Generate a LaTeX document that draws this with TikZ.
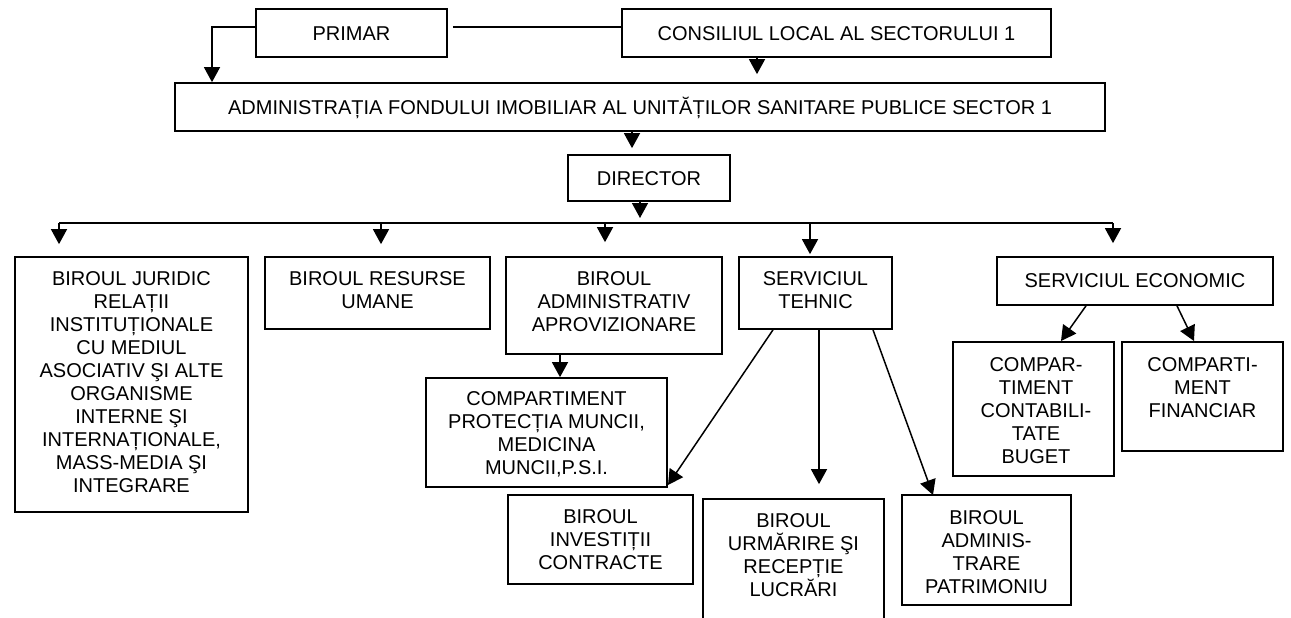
\documentclass[tikz,border=0pt]{standalone}
\usepackage{fontspec}
\setmainfont{Liberation Sans}
\usetikzlibrary{arrows.meta}
\begin{document}
\begin{tikzpicture}[x=1pt,y=-1pt,
  boxs/.style={draw=black, line width=1.7pt, inner sep=0pt},
  txt/.style={align=center, inner sep=0pt, font=\fontsize{20}{23}\selectfont},
  one/.style={text height=14.3pt, text depth=0pt},
  arr/.style={line width=1.5pt, -{Triangle[length=15pt,width=16pt]}},
  ln/.style={line width=1.5pt}]
\useasboundingbox (0,0) rectangle (1291,618);
\clip (0,0) rectangle (1291,618);
\fill[white] (0,0) rectangle (1291,618);

% boxes
\node[boxs, minimum width=191pt, minimum height=48pt] (primar) at (351.5,33) {};
\node[boxs, minimum width=429pt, minimum height=48pt] (cons) at (836.5,33) {};
\node[boxs, minimum width=930pt, minimum height=48pt] (admin) at (640,107) {};
\node[boxs, minimum width=162pt, minimum height=46pt] (dir) at (649,178) {};
\node[boxs, minimum width=233pt, minimum height=255pt] (jur) at (131.5,384.5) {};
\node[boxs, minimum width=225pt, minimum height=72pt] (res) at (377.5,293) {};
\node[boxs, minimum width=216pt, minimum height=97pt] (admv) at (614,305.5) {};
\node[boxs, minimum width=153pt, minimum height=72pt] (teh) at (815.5,293) {};
\node[boxs, minimum width=276pt, minimum height=48pt] (eco) at (1135,281) {};
\node[boxs, minimum width=241pt, minimum height=109pt] (prot) at (546.5,432.5) {};
\node[boxs, minimum width=185pt, minimum height=89pt] (inv) at (600.5,539.5) {};
\node[boxs, minimum width=181pt, minimum height=141pt] (urm) at (793.5,569.5) {};
\node[boxs, minimum width=169pt, minimum height=110pt] (admr) at (986.5,550) {};
\node[boxs, minimum width=161pt, minimum height=134pt] (cont) at (1033.5,409) {};
\node[boxs, minimum width=161pt, minimum height=109pt] (fin) at (1202.5,396.5) {};

% texts
\node[txt, one] (primar-t) at (351.5,33) {PRIMAR};
\node[txt, one] (cons-t) at (836.5,33) {CONSILIUL LOCAL AL SECTORULUI 1};
\node[txt, one] (admin-t) at (640,107) {ADMINISTRAȚIA FONDULUI IMOBILIAR AL UNITĂȚILOR SANITARE PUBLICE SECTOR 1};
\node[txt, one] (dir-t) at (649,178) {DIRECTOR};
\node[txt] (jur-t) at (131.5,382) {BIROUL JURIDIC\\RELAȚII\\INSTITUȚIONALE\\CU MEDIUL\\ASOCIATIV ŞI ALTE\\ORGANISME\\INTERNE ŞI\\INTERNAȚIONALE,\\MASS-MEDIA ŞI\\INTEGRARE};
\node[txt] (res-t) at (377.5,290.5) {BIROUL RESURSE\\UMANE};
\node[txt] (admv-t) at (614,302) {BIROUL\\ADMINISTRATIV\\APROVIZIONARE};
\node[txt] (teh-t) at (815.5,290.5) {SERVICIUL\\TEHNIC};
\node[txt, one] (eco-t) at (1135,280) {SERVICIUL ECONOMIC};
\node[txt] (prot-t) at (546.5,434.5) {COMPARTIMENT\\PROTECȚIA MUNCII,\\MEDICINA\\MUNCII,P.S.I.};
\node[txt] (inv-t) at (600.5,540) {BIROUL\\INVESTIȚII\\CONTRACTE};
\node[txt] (urm-t) at (793.5,555.5) {BIROUL\\URMĂRIRE ŞI\\RECEPȚIE\\LUCRĂRI};
\node[txt] (admr-t) at (986.5,552.5) {BIROUL\\ADMINIS-\\TRARE\\PATRIMONIU};
\node[txt] (cont-t) at (1036,411) {COMPAR-\\TIMENT\\CONTABILI-\\TATE\\BUGET};
\node[txt] (fin-t) at (1202.5,388) {COMPARTI-\\MENT\\FINANCIAR};

% helper coordinates
\coordinate (cy27) at (0,27);
\coordinate (x212) at (212,0);
\coordinate (x757) at (757,0);
\coordinate (x632) at (632,0);
\coordinate (busL) at (59,223);
\coordinate (busR) at (1113,223);
\coordinate (busD) at (640,223);
\coordinate (x381) at (381,0);
\coordinate (x605) at (605,0);
\coordinate (x810) at (810,0);
\coordinate (x560) at (560,0);
\coordinate (x773) at (773,0);
\coordinate (x819) at (819,0);
\coordinate (x873) at (873,0);
\coordinate (x1086) at (1086,0);
\coordinate (x1177) at (1177,0);
\coordinate (invtip) at (668,485);
\coordinate (admrtip) at (933,495);
\coordinate (conttip) at (1061,341);
\coordinate (fintip) at (1194,341);

% connectors
\draw[arr] (primar.west |- cy27) -| (admin.north -| x212);
\draw[ln, shorten <=5pt] (primar.east |- cy27) -- (cons.west |- cy27);
\draw[arr, shorten >=8pt] (cons.south -| x757) -- (admin.north -| x757);
\draw[arr, shorten >=6pt] (admin.south -| x632) -- (dir.north -| x632);
\draw[arr, shorten >=5pt] (dir.south -| busD) -- (busD);
\draw[ln] (busL) -- (busR);
\draw[arr, shorten >=12pt] (busL) -- (jur.north -| busL);
\draw[arr, shorten >=12pt] (busL -| x381) -- (res.north -| x381);
\draw[arr, shorten >=14pt] (busL -| x605) -- (admv.north -| x605);
\draw[arr, shorten >=2pt] (busL -| x810) -- (teh.north -| x810);
\draw[arr, shorten >=13pt] (busR) -- (eco.north -| busR);
\draw[arr] (admv.south -| x560) -- (prot.north -| x560);
\draw[arr] (teh.south -| x773) -- (invtip);
\draw[arr, shorten >=14pt] (teh.south -| x819) -- (urm.north -| x819);
\draw[arr] (teh.south -| x873) -- (admrtip);
\draw[arr] (eco.south -| x1086) -- (conttip);
\draw[arr] (eco.south -| x1177) -- (fintip);
\end{tikzpicture}
\end{document}
